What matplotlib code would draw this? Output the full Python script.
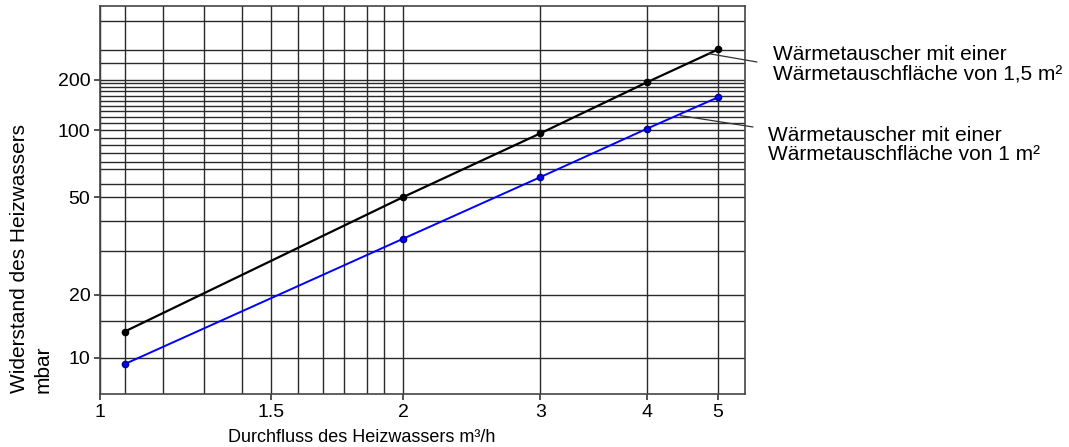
import matplotlib.pyplot as plt
from matplotlib.ticker import FixedLocator, FixedFormatter, NullFormatter
import numpy as np

plt.rcParams['font.family'] = ['Liberation Sans', 'DejaVu Sans']

# Daten
flow = [1.06, 2, 3, 4, 5]
dp_15 = [13.3, 50, 96.7, 193, 303]   # 1,5 m² Wärmetauschfläche
dp_10 = [9.3, 33.8, 61.5, 102, 157]  # 1 m² Wärmetauschfläche

x_ticks = [1, 1.5, 2, 3, 4, 5]
x_labels = ['1', '1.5', '2', '3', '4', '5']
x_grid = [1.06, 1.16, 1.28, 1.40, 1.59, 1.68, 1.76, 1.85, 1.92]

y_ticks = [10, 20, 50, 100, 200]
y_labels = ['10', '20', '50', '100', '200']
y_grid = [15, 30, 40, 57, 67, 72, 79, 86, 92,
          110, 120, 130, 140, 150, 160, 170, 180, 190, 250, 300, 450]

label_15 = 'Wärmetauscher mit einer\nWärmetauschfläche von 1,5 m²'
label_10 = 'Wärmetauscher mit einer\nWärmetauschfläche von 1 m²'

# the printed axes are only roughly logarithmic: piecewise log between labelled ticks
x_dist = [0, 170.7, 303, 440.3, 547, 618]
y_dist = [0, 63, 160.3, 227.3, 277.7]


def piecewise_log(knots, dist):
    lk = np.log10(knots)
    d = np.asarray(dist, float)
    s_lo = (d[1] - d[0]) / (lk[1] - lk[0])
    s_hi = (d[-1] - d[-2]) / (lk[-1] - lk[-2])

    def fwd(v):
        lv = np.log10(np.maximum(np.asarray(v, float), 1e-12))
        out = np.interp(lv, lk, d)
        out = np.where(lv < lk[0], d[0] + (lv - lk[0]) * s_lo, out)
        out = np.where(lv > lk[-1], d[-1] + (lv - lk[-1]) * s_hi, out)
        return out

    def inv(u):
        u = np.asarray(u, float)
        lv = np.interp(u, d, lk)
        lv = np.where(u < d[0], lk[0] + (u - d[0]) / s_lo, lv)
        lv = np.where(u > d[-1], lk[-1] + (u - d[-1]) / s_hi, lv)
        return 10 ** lv

    return fwd, inv


fig = plt.figure(figsize=(10.69, 4.47), dpi=100)
ax = fig.add_axes([100 / 1069, 53 / 447, 645 / 1069, 388 / 447])

ax.set_xscale('function', functions=piecewise_log(x_ticks, x_dist))
ax.set_yscale('function', functions=piecewise_log(y_ticks, y_dist))
ax.set_xlim(1, 5.44)
ax.set_ylim(6.7, 550)

ax.xaxis.set_major_locator(FixedLocator(x_ticks))
ax.xaxis.set_major_formatter(FixedFormatter(x_labels))
ax.xaxis.set_minor_locator(FixedLocator(x_grid))
ax.xaxis.set_minor_formatter(NullFormatter())
ax.yaxis.set_major_locator(FixedLocator(y_ticks))
ax.yaxis.set_major_formatter(FixedFormatter(y_labels))
ax.yaxis.set_minor_locator(FixedLocator(y_grid))
ax.yaxis.set_minor_formatter(NullFormatter())

ax.grid(which='both', color='#2a2a2a', linewidth=1.0)
ax.tick_params(which='major', length=4, width=1.2, color='#333333',
               labelsize=14, pad=3)
ax.tick_params(which='minor', length=0)
for s in ax.spines.values():
    s.set_color('#444444')
    s.set_linewidth(1.2)

ax.plot(flow, dp_15, color='black', lw=1.6, marker='o', ms=4.5, zorder=3)
ax.plot(flow, dp_10, color='#0000ff', lw=1.4, marker='o', ms=4.5,
        mec='#000080', zorder=3)

ax.annotate('', xy=(4.85, 286), xycoords='data',
            xytext=(757 / 1069, 385 / 447), textcoords='figure fraction',
            arrowprops=dict(arrowstyle='-', color='#333333', lw=0.9,
                            shrinkA=0, shrinkB=0))
ax.annotate('', xy=(4.44, 122), xycoords='data',
            xytext=(753 / 1069, 320 / 447), textcoords='figure fraction',
            arrowprops=dict(arrowstyle='-', color='#333333', lw=0.9,
                            shrinkA=0, shrinkB=0))

fig.text(773 / 1069, 1 - 64 / 447, label_15, fontsize=15,
         ha='left', va='center', linespacing=1.06)
fig.text(768 / 1069, 1 - 145 / 447, label_10, fontsize=15,
         ha='left', va='center', linespacing=1.06)

fig.text(362 / 1069, 1 - 437 / 447, 'Durchfluss des Heizwassers m³/h',
         fontsize=13, ha='center', va='center')
fig.text(10 / 1069, 54 / 447, 'Widerstand des Heizwassers\nmbar', fontsize=15,
         rotation=90, ha='left', va='bottom', multialignment='left',
         linespacing=1.3)

fig.savefig('out.png', dpi=100)
